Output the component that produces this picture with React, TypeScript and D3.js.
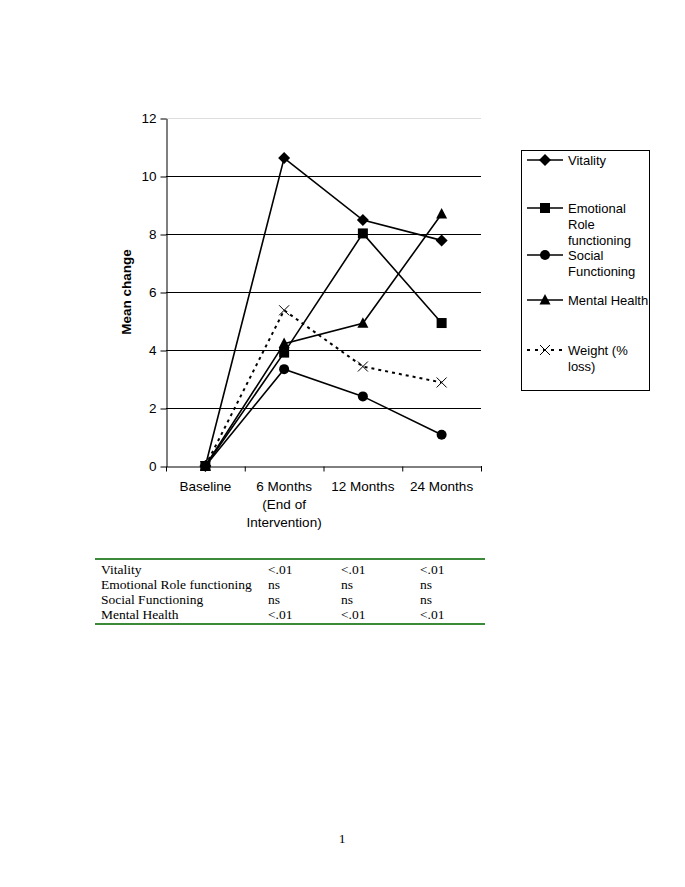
import React, { useEffect, useRef } from 'react';
import * as d3 from 'd3';

const categories = ['Baseline', '6 Months (End of Intervention)', '12 Months', '24 Months'];
const categoryLines = [['Baseline'], ['6 Months', '(End of', 'Intervention)'], ['12 Months'], ['24 Months']];
const vitality = [0, 10.62, 8.48, 7.78];
const emotional = [0, 3.91, 8.02, 4.93];
const social = [0, 3.34, 2.4, 1.08];
const mental = [0, 4.22, 4.92, 8.69];
const weight = [0, 5.37, 3.43, 2.88];
const yTicks = [0, 2, 4, 6, 8, 10, 12];

const series = [
  { name: ['Vitality'], values: vitality, marker: 'diamond', dashed: false },
  { name: ['Emotional', 'Role', 'functioning'], values: emotional, marker: 'square', dashed: false },
  { name: ['Social', 'Functioning'], values: social, marker: 'circle', dashed: false },
  { name: ['Mental Health'], values: mental, marker: 'triangle', dashed: false },
  { name: ['Weight (%', 'loss)'], values: weight, marker: 'cross', dashed: true },
];

const tableRows = ['Vitality', 'Emotional Role functioning', 'Social Functioning', 'Mental Health'];
const tableVals = [
  ['<.01', '<.01', '<.01'],
  ['ns', 'ns', 'ns'],
  ['ns', 'ns', 'ns'],
  ['<.01', '<.01', '<.01'],
];

const drawMarker = (g: any, type: string, x: number, y: number) => {
  if (type === 'diamond') {
    g.append('path').attr('d', `M${x},${y - 6}L${x + 6},${y}L${x},${y + 6}L${x - 6},${y}Z`).attr('fill', '#000');
  } else if (type === 'square') {
    g.append('rect').attr('x', x - 5).attr('y', y - 5).attr('width', 10).attr('height', 10).attr('fill', '#000');
  } else if (type === 'circle') {
    g.append('circle').attr('cx', x).attr('cy', y).attr('r', 5).attr('fill', '#000');
  } else if (type === 'triangle') {
    g.append('path').attr('d', `M${x},${y - 6}L${x + 5.5},${y + 4.5}L${x - 5.5},${y + 4.5}Z`).attr('fill', '#000');
  } else if (type === 'cross') {
    g.append('path').attr('d', `M${x - 5},${y - 5}L${x + 5},${y + 5}M${x - 5},${y + 5}L${x + 5},${y - 5}`).attr('stroke', '#000').attr('stroke-width', 1);
  }
};

const App = () => {
  const ref = useRef<SVGSVGElement>(null);

  useEffect(() => {
    const svg = d3.select(ref.current);
    svg.selectAll('*').remove();

    const left = 166;
    const right = 481;
    const top = 118;
    const bottom = 466;
    const sans = 'Liberation Sans, Arial, sans-serif';
    const serif = 'Liberation Serif, Times New Roman, serif';

    const x = d3.scaleBand().domain(categories).range([left, right]);
    const y = d3.scaleLinear().domain([0, 12]).range([bottom, top]);
    const cx = (i: number) => (x(categories[i]) as number) + x.bandwidth() / 2;

    // gridlines
    svg.append('g')
      .selectAll('line')
      .data(yTicks.filter((d) => d > 0))
      .enter()
      .append('line')
      .attr('x1', left)
      .attr('x2', right)
      .attr('y1', (d) => y(d) + 0.5)
      .attr('y2', (d) => y(d) + 0.5)
      .attr('stroke', (d) => (d === 12 ? '#ddd' : '#000'))
      .attr('stroke-width', 1);

    // y axis
    const yAxis = svg.append('g').attr('transform', `translate(${left + 0.5},0.5)`).call(d3.axisLeft(y).tickValues(yTicks).tickSize(6).tickSizeOuter(0));
    yAxis.select('.domain').attr('stroke', '#000');
    yAxis.selectAll('text').attr('font-family', sans).attr('font-size', 13.5).attr('fill', '#000').attr('dx', -1);

    // x axis
    const xAxis = svg.append('g').attr('transform', `translate(0.5,${bottom + 0.5})`).call(d3.axisBottom(x).tickSize(5).tickSizeOuter(0).tickFormat(() => ''));
    xAxis.select('.domain').attr('stroke', '#000');
    xAxis.selectAll('line').attr('transform', `translate(${-x.bandwidth() / 2},0)`);
    svg.append('line').attr('x1', right + 0.5).attr('x2', right + 0.5).attr('y1', bottom).attr('y2', bottom + 5.5).attr('stroke', '#000');

    categoryLines.forEach((lines, i) => {
      lines.forEach((t, j) => {
        svg.append('text')
          .attr('x', cx(i))
          .attr('y', bottom + 25 + j * 18)
          .attr('text-anchor', 'middle')
          .attr('font-family', sans)
          .attr('font-size', 13.5)
          .text(t);
      });
    });

    svg.append('text')
      .attr('transform', `translate(131,${(top + bottom) / 2}) rotate(-90)`)
      .attr('text-anchor', 'middle')
      .attr('font-family', sans)
      .attr('font-size', 13.5)
      .attr('font-weight', 'bold')
      .text('Mean change');

    // lines
    const line = d3.line<number>().x((_, i) => cx(i)).y((d) => y(d));
    series.forEach((s) => {
      svg.append('path')
        .attr('d', line(s.values))
        .attr('fill', 'none')
        .attr('stroke', '#000')
        .attr('stroke-width', s.dashed ? 2 : 1.6)
        .attr('stroke-dasharray', s.dashed ? '3,4' : null);
    });
    series.forEach((s) => {
      const g = svg.append('g');
      s.values.forEach((v, i) => drawMarker(g, s.marker, cx(i), y(v)));
    });

    // legend
    svg.append('rect').attr('x', 521.5).attr('y', 150.5).attr('width', 128).attr('height', 240).attr('fill', 'none').attr('stroke', '#000');
    const legendY = [160, 208, 255, 300, 350];
    series.forEach((s, i) => {
      const ly = legendY[i];
      svg.append('line').attr('x1', 527).attr('x2', 563).attr('y1', ly).attr('y2', ly)
        .attr('stroke', '#000').attr('stroke-width', s.dashed ? 2 : 1.6).attr('stroke-dasharray', s.dashed ? '3,5' : null);
      const g = svg.append('g');
      drawMarker(g, s.marker, 545, ly);
      s.name.forEach((t, j) => {
        svg.append('text')
          .attr('x', 568)
          .attr('y', ly + 5 + j * 16)
          .attr('font-family', sans)
          .attr('font-size', 13)
          .text(t);
      });
    });

    // table
    svg.append('line').attr('x1', 95).attr('x2', 485).attr('y1', 559).attr('y2', 559).attr('stroke', '#3a8a3a').attr('stroke-width', 2);
    svg.append('line').attr('x1', 95).attr('x2', 485).attr('y1', 624).attr('y2', 624).attr('stroke', '#3a8a3a').attr('stroke-width', 2);
    const colX = [268, 341, 420];
    tableRows.forEach((r, i) => {
      const ty = 574 + i * 15;
      svg.append('text').attr('x', 101).attr('y', ty).attr('font-family', serif).attr('font-size', 13.5).text(r);
      tableVals[i].forEach((v, j) => {
        svg.append('text').attr('x', colX[j]).attr('y', ty).attr('font-family', serif).attr('font-size', 13.5).text(v);
      });
    });

    svg.append('text').attr('x', 342).attr('y', 843).attr('text-anchor', 'middle')
      .attr('font-family', serif).attr('font-size', 13.5).text('1');
  }, []);

  return (
    <svg ref={ref} width={685} height={887} style={{ position: 'absolute', left: 0, top: 0, background: '#fff' }} />
  );
};

export default App;
